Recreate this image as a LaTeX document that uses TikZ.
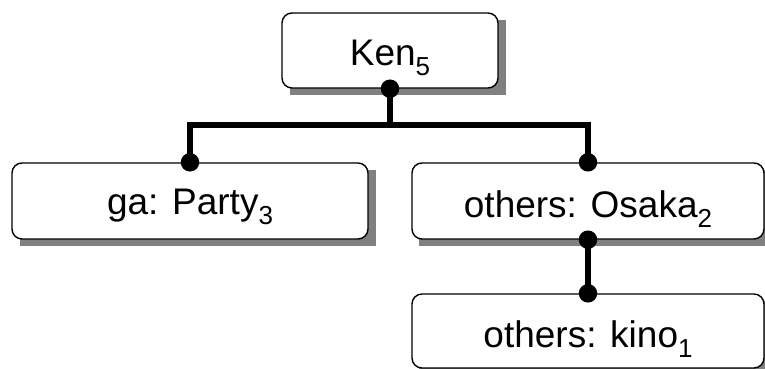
\documentclass[tikz,border=0pt]{standalone}
\usepackage{fontspec}
\setmainfont{Liberation Sans}
\definecolor{shadowgray}{RGB}{128,128,128}
\newcommand{\mysub}[1]{\raisebox{-10pt}{\fontsize{26}{26}\selectfont #1}}
\begin{document}
\begin{tikzpicture}[x=1pt,y=-1pt,
  box/.style={draw=black, line width=1.4pt, rounded corners=10pt, fill=white, inner sep=0pt},
  shade/.style={fill=shadowgray, draw=none, inner sep=0pt},
  lbl/.style={anchor=base, inner sep=0pt, font=\fontsize{37}{40}\selectfont},
  conn/.style={line width=6pt, line join=miter, line cap=butt},
  dot/.style={circle, fill=black, inner sep=0pt, minimum size=18.5pt}]
\useasboundingbox (0,0) rectangle (765,369);
\fill[white] (0,0) rectangle (765,369);
% shadows
\node[shade, minimum width=216pt, minimum height=75pt] (kenS) at (398,57.5) {};
\node[shade, minimum width=356pt, minimum height=76pt] (gaS) at (198,208) {};
\node[shade, minimum width=352pt, minimum height=76pt] (osakaS) at (595,208) {};
\node[shade, minimum width=352pt, minimum height=74pt] (kinoS) at (595,338) {};
% boxes
\node[box, minimum width=216pt, minimum height=75pt] (ken) at (390,50.5) {};
\node[box, minimum width=356pt, minimum height=76pt] (ga) at (190,201) {};
\node[box, minimum width=352pt, minimum height=76pt] (osaka) at (588,201) {};
\node[box, minimum width=352pt, minimum height=74pt] (kino) at (588,331) {};
% connectors
\coordinate (j) at (390,125);
\draw[conn] (ken.south) -- (j);
\draw[conn] (ga.north) -- (ga.north |- j) -- (osaka.north |- j) -- (osaka.north);
\draw[conn] (osaka.south) -- (kino.north);
% dots
\node[dot] (d1) at (ken.south) {};
\node[dot] (d2) at (ga.north) {};
\node[dot] (d3) at (osaka.north) {};
\node[dot] (d4) at (osaka.south) {};
\node[dot] (d5) at (kino.north) {};
% labels
\node[lbl] (tken) at (390,65) {Ken\mysub{5}};
\node[lbl] (tga) at (190,214) {ga: Party\mysub{3}};
\node[lbl] (tosaka) at (588,217) {others: Osaka\mysub{2}};
\node[lbl] (tkino) at (588,347) {others: kino\mysub{1}};
\end{tikzpicture}
\end{document}
